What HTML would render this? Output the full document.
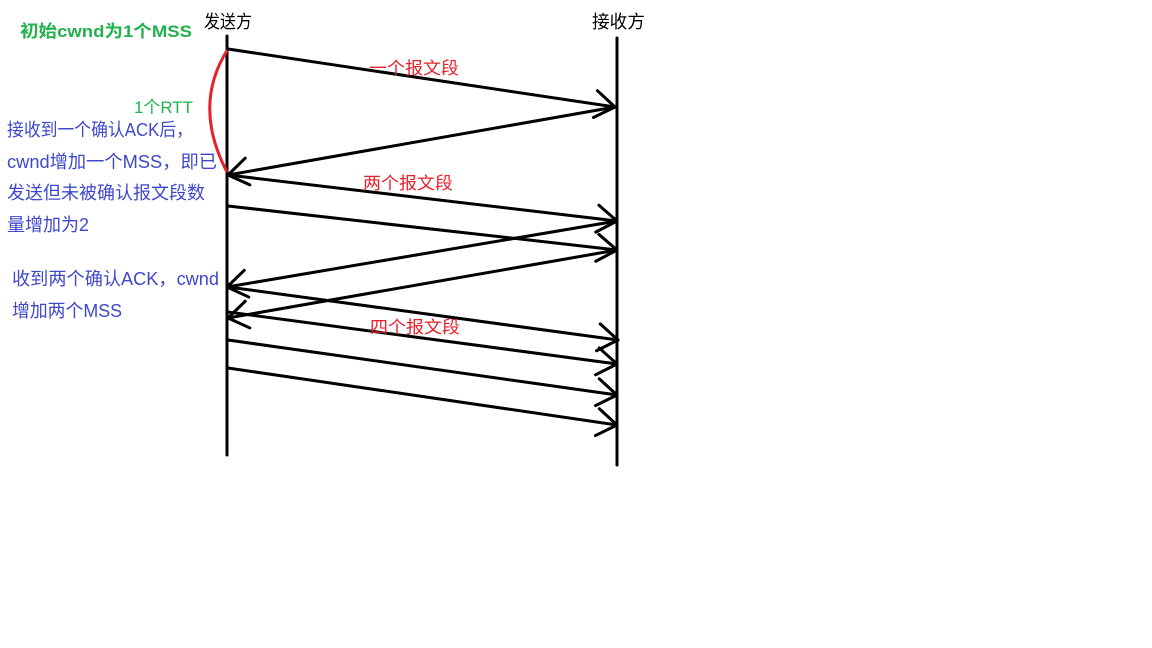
<!DOCTYPE html>
<html><head><meta charset="utf-8"><style>
body{margin:0;background:#fff;width:1152px;height:648px;overflow:hidden}
svg{display:block}
text{font-family:"Liberation Sans","Noto Sans CJK SC",sans-serif}
</style></head><body>
<svg width="1152" height="648">
<g stroke="#000" stroke-width="3" fill="none" stroke-linecap="round">
<line x1="227" y1="36" x2="227" y2="455"/>
<line x1="617" y1="38" x2="617" y2="465"/>
</g>
<path d="M228 49 Q192 105 227 172" stroke="#e8202a" stroke-width="3" fill="none"/>
<g id="arrows" stroke="#000" stroke-width="3" fill="none" stroke-linecap="round"></g>
<text x="20" y="37" font-size="17" font-weight="bold" fill="#22b14c" textLength="172" lengthAdjust="spacingAndGlyphs">初始cwnd为1个MSS</text>
<text x="204" y="28" font-size="18" fill="#000" textLength="48" lengthAdjust="spacingAndGlyphs">发送方</text>
<text x="592" y="28" font-size="18" fill="#000" textLength="53" lengthAdjust="spacingAndGlyphs">接收方</text>
<text x="369" y="74" font-size="17" fill="#e8202a" textLength="90" lengthAdjust="spacingAndGlyphs">一个报文段</text>
<text x="363" y="189" font-size="17" fill="#e8202a" textLength="90" lengthAdjust="spacingAndGlyphs">两个报文段</text>
<text x="370" y="333" font-size="17" fill="#e8202a" textLength="90" lengthAdjust="spacingAndGlyphs">四个报文段</text>
<text x="134" y="113" font-size="17" fill="#22b14c" textLength="59" lengthAdjust="spacingAndGlyphs">1个RTT</text>
<g font-size="18" fill="#3f48cc">
<text x="7" y="136" textLength="186" lengthAdjust="spacingAndGlyphs">接收到一个确认ACK后，</text>
<text x="7" y="168" textLength="210" lengthAdjust="spacingAndGlyphs">cwnd增加一个MSS，即已</text>
<text x="7" y="199" textLength="198" lengthAdjust="spacingAndGlyphs">发送但未被确认报文段数</text>
<text x="7" y="231" textLength="82" lengthAdjust="spacingAndGlyphs">量增加为2</text>
</g>
<g font-size="18" fill="#3f48cc">
<text x="12" y="285" textLength="207" lengthAdjust="spacingAndGlyphs">收到两个确认ACK，cwnd</text>
<text x="12" y="317" textLength="110" lengthAdjust="spacingAndGlyphs">增加两个MSS</text>
</g>
</svg>
<script>
const arrowsFrom=[[228,49],[615,107],[228,175],[228,206],[617,221],[617,250],[228,287],[228,312],[228,340],[228,368]];
const arrowsTo=[[615,107],[228,175],[617,221],[617,250],[227,287],[228,318],[618,340],[617,364],[617,395],[617,425]];
const g=document.getElementById('arrows');
const NS='http://www.w3.org/2000/svg';
arrowsFrom.forEach((f,i)=>{
  const t=arrowsTo[i];
  const l=document.createElementNS(NS,'line');
  l.setAttribute('x1',f[0]);l.setAttribute('y1',f[1]);l.setAttribute('x2',t[0]);l.setAttribute('y2',t[1]);
  
  
  g.appendChild(l);
  const a=Math.atan2(t[1]-f[1],t[0]-f[0]);
  [0.6,-0.6].forEach(d=>{
    const h=document.createElementNS(NS,'line');
    h.setAttribute('x1',t[0]);h.setAttribute('y1',t[1]);
    h.setAttribute('x2',t[0]-24*Math.cos(a+d));h.setAttribute('y2',t[1]-24*Math.sin(a+d));
    
    
    g.appendChild(h);
  });
});
</script>
</body></html>
